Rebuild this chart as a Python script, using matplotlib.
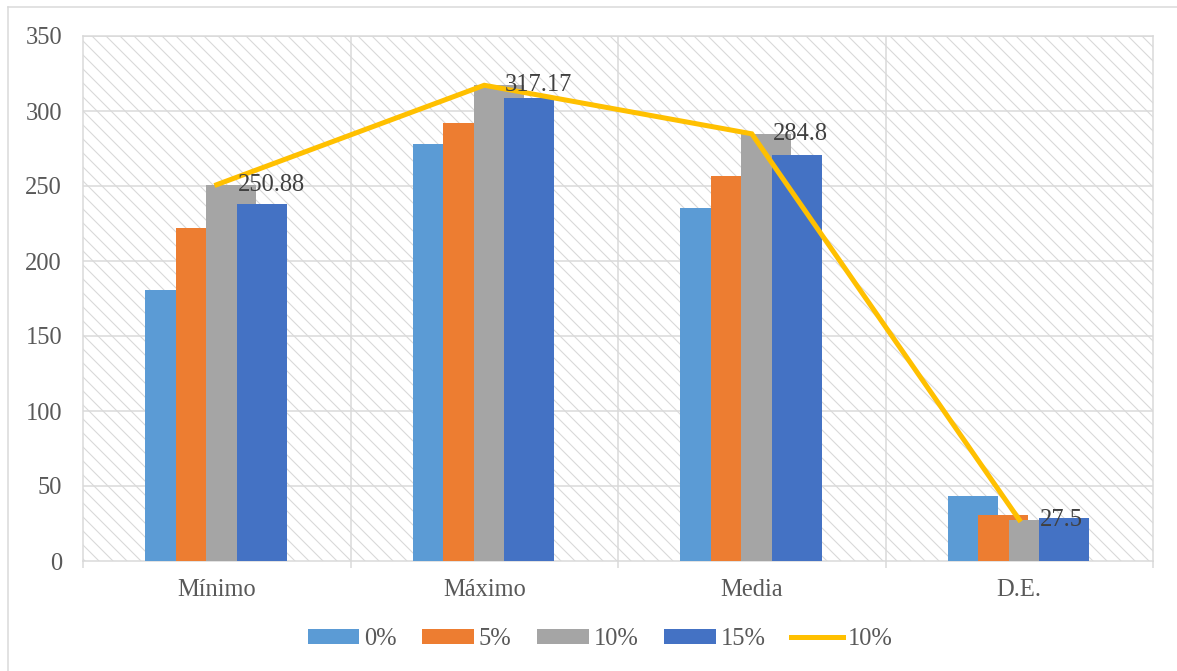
import matplotlib
matplotlib.use("Agg")
import matplotlib.pyplot as plt
from matplotlib.patches import Rectangle, Patch
from matplotlib.lines import Line2D

# summary statistics per mix percentage
categories = ["Mínimo", "Máximo", "Media", "D.E."]
series_names = ["0%", "5%", "10%", "15%"]
vals_0 = [181, 278, 235.5, 43.5]
vals_5 = [222, 292, 256.5, 30.5]
vals_10 = [250.88, 317.17, 284.8, 27.5]
vals_15 = [238, 309, 270.5, 29]
line_name = "10%"
line_vals = vals_10
y_ticks = [0, 50, 100, 150, 200, 250, 300, 350]

colors = ["#5B9BD5", "#ED7D31", "#A5A5A5", "#4472C4"]
line_color = "#FFC000"
grid_color = "#D9D9D9"

W, H, DPI = 1177, 671, 84


def pt(px):
    # pixels -> points for the chosen dpi
    return px * 72.0 / DPI


plt.rcParams["font.family"] = ["Liberation Serif", "DejaVu Serif"]
plt.rcParams["hatch.color"] = grid_color
plt.rcParams["hatch.linewidth"] = pt(1.1)

fig = plt.figure(figsize=(W / DPI, H / DPI), dpi=DPI)
ax = fig.add_axes([83 / W, (H - 561) / H, (1153 - 83) / W, (561 - 36) / H])

# hatched plot background
bg = Rectangle((0, 0), 1, 1, transform=ax.transAxes, facecolor="white",
               edgecolor=grid_color, hatch="\\\\", linewidth=0, zorder=0)
ax.add_patch(bg)

x = list(range(len(categories)))
bar_w = 0.187
step = 0.114
start = -0.267
for i, vals in enumerate([vals_0, vals_5, vals_10, vals_15]):
    ax.bar([c + start + i * step for c in x], vals, width=bar_w, align="edge",
           color=colors[i], linewidth=0, zorder=3, label=series_names[i])

ax.plot(x, line_vals, color=line_color, linewidth=pt(5), zorder=5,
        solid_joinstyle="miter")
for xi, v in zip(x, line_vals):
    ax.annotate(f"{v:g}", (xi, v), xytext=(21, 0), textcoords="offset pixels",
                ha="left", va="center", fontsize=pt(24.5), color="#404040", zorder=6)

ax.set_xlim(-0.5, len(categories) - 0.5)
ax.set_ylim(0, 350)
ax.set_yticks(y_ticks)
ax.tick_params(axis="y", length=0, pad=pt(21), labelsize=pt(24.5), labelcolor="#595959")

# category boundaries as major ticks, names on minor ticks
ax.set_xticks([c - 0.5 for c in range(len(categories) + 1)])
ax.set_xticklabels([])
ax.set_xticks(x, minor=True)
ax.set_xticklabels(categories, minor=True)
ax.tick_params(axis="x", which="major", direction="out", length=pt(7),
               width=pt(1.5), color=grid_color)
ax.tick_params(axis="x", which="minor", length=0, pad=pt(18),
               labelsize=pt(24.5), labelcolor="#595959")

for yv in y_ticks[1:]:
    ax.axhline(yv, color=grid_color, linewidth=pt(1.5), zorder=1)
for xv in [c + 0.5 for c in x[:-1]]:
    ax.axvline(xv, color=grid_color, linewidth=pt(1.5), zorder=1)
for s in ax.spines.values():
    s.set_color(grid_color)
    s.set_linewidth(pt(1.5))
    s.set_zorder(2)

handles = [Patch(facecolor=c, edgecolor="none") for c in colors]
handles.append(Line2D([0], [0], color=line_color, linewidth=pt(5)))
labels = series_names + [line_name]
fig.legend(handles, labels, loc="center", bbox_to_anchor=(600 / W, 1 - 639 / H),
           ncol=5, frameon=False, fontsize=pt(24.5), handlelength=2.1,
           handleheight=0.55, handletextpad=0.2, columnspacing=1.05,
           labelcolor="#595959")

# chart frame
fig.add_artist(Line2D([8 / W, 8 / W], [0, 1 - 7 / H], color=grid_color,
                      linewidth=pt(1.5), transform=fig.transFigure))
fig.add_artist(Line2D([8 / W, 1], [1 - 7 / H, 1 - 7 / H], color=grid_color,
                      linewidth=pt(1.5), transform=fig.transFigure))

fig.savefig("out.png", dpi=DPI, facecolor="white")
